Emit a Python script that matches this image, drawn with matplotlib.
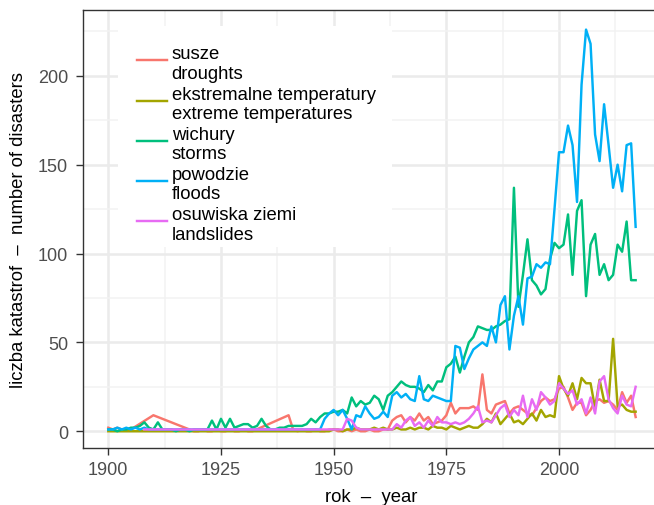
import numpy as np
import matplotlib
matplotlib.use("Agg")
import matplotlib.pyplot as plt
from matplotlib.lines import Line2D
from matplotlib.patches import Rectangle

plt.rcParams["font.family"] = ["Liberation Sans", "DejaVu Sans"]

# ---- data ---------------------------------------------------------------
years = np.arange(1900, 2018)

floods = [1, 1, 2, 1, 2, 1, 2, 1, 2] + [1] * 38 + [
    1, 7, 10, 12, 9, 12, 7, 1, 9, 8,
    14, 10, 7, 8, 11, 8, 20, 22, 19, 21,
    18, 17, 31, 18, 17, 20, 19, 18, 17, 17,
    48, 47, 35, 41, 46, 48, 50, 48, 59, 50,
    71, 76, 46, 65, 76, 60, 86, 87, 94, 92,
    95, 94, 125, 157, 157, 172, 161, 129, 195, 226,
    218, 167, 152, 184, 161, 137, 150, 135, 161, 162,
    115]

storms = [
    1, 1, 0, 1, 1, 2, 2, 3, 5, 2,
    1, 5, 1, 1, 1, 0, 1, 1, 0, 1,
    1, 1, 1, 6, 1, 7, 2, 7, 2, 3,
    4, 4, 2, 3, 7, 3, 1, 1, 2, 2,
    3, 3, 3, 3, 4, 7, 5, 8, 10, 10,
    11, 11, 12, 10, 19, 14, 17, 15, 16, 20,
    18, 12, 20, 22, 25, 28, 26, 25, 25, 24,
    22, 26, 23, 28, 28, 36, 38, 42, 33, 42,
    50, 53, 59, 58, 57, 57, 59, 60, 62, 63,
    137, 70, 88, 108, 85, 82, 77, 80, 97, 106,
    103, 105, 122, 88, 124, 130, 76, 105, 111, 88,
    94, 85, 88, 105, 101, 118, 85, 85]

extreme_temps = [0] * 50 + [
    1, 1, 0, 1, 1, 2, 1, 1, 1, 2,
    1, 2, 1, 1, 2, 1, 1, 2, 1, 2,
    2, 1, 3, 2, 2, 1, 3, 2, 1, 2,
    3, 2, 2, 4, 7, 5, 10, 4, 7, 10,
    5, 6, 4, 7, 10, 6, 12, 8, 9, 8,
    31, 24, 20, 27, 18, 30, 27, 27, 13, 29,
    17, 17, 52, 14, 15, 12, 11, 11]

landslide_years = np.arange(1908, 2018)
landslides = [1] * 45 + [
    7, 6, 2, 1, 1, 1, 1, 1, 1, 1, 1,
    4, 2, 6, 8, 3, 5,
    2, 6, 3, 8, 5, 5, 4, 5, 4, 5,
    7, 10, 14, 5, 6, 5, 9, 13, 15, 8,
    12, 9, 20, 8, 18, 12, 22, 19, 15, 17,
    27, 24, 21, 23, 15, 18, 10, 19, 10, 28,
    31, 18, 13, 10, 20, 15, 14, 25]

drought_years = np.concatenate([
    np.arange(1900, 1906), [1910], np.arange(1918, 1933), np.arange(1940, 2018)])
droughts = [2, 1, 2, 1, 1, 1] + [9] + [
    1, 0, 0, 1, 0, 0, 1, 0, 0, 1, 0, 0, 1, 0, 0] + [9] + [
    1, 0, 1, 0, 0, 1, 0, 0, 1, 1, 0, 0, 1, 0, 1, 0, 0, 1, 0, 0, 1, 1] + [
    6, 8, 9, 5, 8, 6, 10, 6, 8, 4,
    5, 6, 9, 16, 10, 13, 13, 13, 14, 12,
    32, 12, 10, 15, 16, 17, 10, 13, 14, 12,
    10, 9, 13, 17, 19, 17, 18, 24, 25, 19,
    12, 16, 16, 9, 12, 17, 18, 16, 17, 15,
    12, 22, 16, 20, 8]

labels_pl = ["susze", "ekstremalne temperatury", "wichury", "powodzie", "osuwiska ziemi"]
labels_en = ["droughts", "extreme temperatures", "storms", "floods", "landslides"]
colors = ["#F8766D", "#A3A500", "#00BF7D", "#00B0F6", "#E76BF3"]

series = [
    (drought_years, droughts),
    (years, extreme_temps),
    (years, storms),
    (years, floods),
    (landslide_years, landslides),
]

# ---- figure -------------------------------------------------------------
W, H = 654, 506
fig = plt.figure(figsize=(W / 100, H / 100), dpi=100)


def fx(px):
    return px / W


def fy(py):
    return 1 - py / H


left, right, top, bottom = 82.7, 662.0, 10.7, 449.3
ax = fig.add_axes([fx(left), fy(bottom), (right - left) / W, (bottom - top) / H])
ax.set_facecolor("white")

for (xs, ys), c in zip(series, colors):
    ax.plot(xs, ys, color=c, lw=1.75, solid_joinstyle="round", zorder=3)

ax.set_xlim(1894.32, 2022.85)
ax.set_ylim(-9.6, 237.2)

ax.set_xticks([1900, 1925, 1950, 1975, 2000])
ax.set_xticks([1912.5, 1937.5, 1962.5, 1987.5, 2012.5], minor=True)
ax.set_yticks([0, 50, 100, 150, 200])
ax.set_yticks([25, 75, 125, 175, 225], minor=True)

ax.grid(which="major", color="#EBEBEB", lw=1.8, zorder=0)
ax.grid(which="minor", color="#F2F2F2", lw=1.1, zorder=0)
ax.set_axisbelow(True)

for s in ax.spines.values():
    s.set_color("#333333")
    s.set_linewidth(1.0)

ax.tick_params(which="major", length=4.8, width=1.0, color="#333333",
               labelsize=13, labelcolor="#4D4D4D")
ax.tick_params(axis="x", which="major", pad=4.3)
ax.tick_params(axis="y", which="major", pad=5.8)
ax.tick_params(which="minor", length=0)

fig.text(fx(371), fy(502.5), "rok  \u2013  year", ha="center", va="baseline",
         fontsize=13.3, color="black")
fig.text(fx(23.5), fy(230), "liczba katastrof  \u2013  number of disasters",
         rotation=90, rotation_mode="anchor", ha="center", va="baseline",
         fontsize=13.3, color="black")

# ---- legend -------------------------------------------------------------
ax.add_patch(Rectangle((fx(118), fy(248)), fx(392) - fx(118), fy(27) - fy(248),
                       transform=fig.transFigure, facecolor="white",
                       edgecolor="none", zorder=5))
for i, (pl, en, c) in enumerate(zip(labels_pl, labels_en, colors)):
    yc = 61.3 + 40.25 * i
    fig.add_artist(Line2D([fx(137), fx(167)], [fy(yc), fy(yc)], color=c, lw=1.75,
                          transform=fig.transFigure, zorder=6))
    fig.text(fx(171.7), fy(yc - 2.0), pl, ha="left", va="baseline",
             fontsize=13.3, color="black", zorder=6)
    fig.text(fx(171.7), fy(yc + 17.4), en, ha="left", va="baseline",
             fontsize=13.3, color="black", zorder=6)

fig.savefig("out.png", dpi=100, facecolor="white")
